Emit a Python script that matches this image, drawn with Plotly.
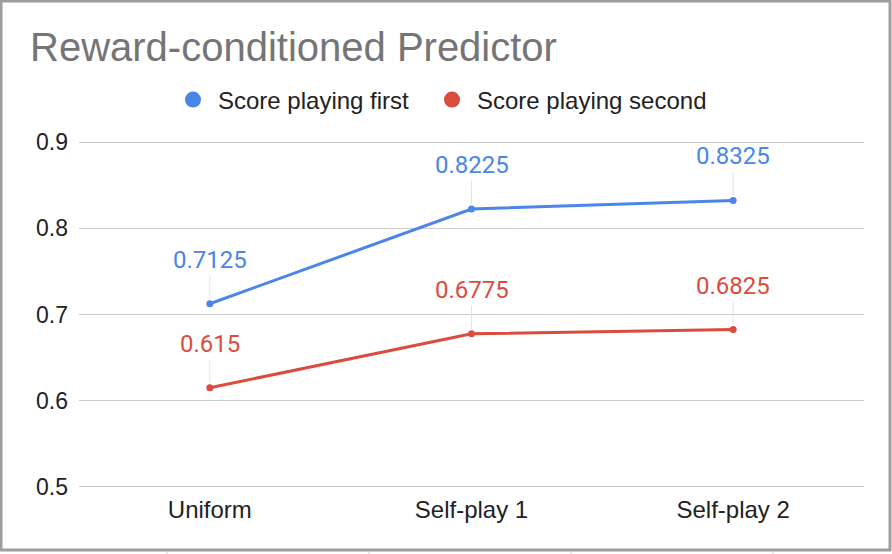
import plotly.graph_objects as go

categories = ['Uniform', 'Self-play 1', 'Self-play 2']
score_first = [0.7125, 0.8225, 0.8325]
score_second = [0.615, 0.6775, 0.6825]
series_names = ['Score playing first', 'Score playing second']
y_ticks = [0.5, 0.6, 0.7, 0.8, 0.9]

BLUE = '#4a86e8'
RED = '#db4c3f'

W, H = 892, 554
L, R, T, B = 79, 28, 141, 66
pw, ph = W - L - R, H - T - B

def px_x(p):
    return (p - L) / pw

def px_y(p):
    return (H - B - p) / ph

fig = go.Figure()

series = [(series_names[0], score_first, BLUE, 'legend'),
          (series_names[1], score_second, RED, 'legend2')]
for name, vals, col, leg in series:
    fig.add_trace(go.Scatter(
        x=categories, y=vals, mode='lines+markers', name=name,
        line=dict(color=col, width=3), marker=dict(color=col, size=7),
        showlegend=False, cliponaxis=False))
    # legend-only marker
    fig.add_trace(go.Scatter(
        x=[None], y=[None], mode='markers', name=name, legend=leg,
        marker=dict(color=col, size=20)))

annotations = []
for vals, col in [(score_first, BLUE), (score_second, RED)]:
    for c, v in zip(categories, vals):
        annotations.append(dict(
            x=c, y=v, xref='x', yref='y', text=str(v),
            showarrow=True, arrowhead=0, arrowwidth=1, arrowcolor='#e3e3e3',
            ax=0, ay=-44, standoff=5,
            font=dict(family='Roboto', size=24, color=col)))

shapes = [dict(type='rect', xref='paper', yref='paper',
               x0=px_x(1), x1=px_x(890), y0=px_y(550), y1=px_y(1),
               line=dict(color='#9e9e9e', width=3), layer='above')]
for gx in [167, 369, 571, 773]:
    shapes.append(dict(type='line', xref='paper', yref='paper',
                       x0=px_x(gx), x1=px_x(gx), y0=px_y(554), y1=px_y(551.5),
                       line=dict(color='#d0d0d0', width=1)))

legend_style = dict(orientation='h', xref='container', yref='container',
                    xanchor='left', y=1 - 100 / H, yanchor='middle',
                    font=dict(size=24, color='#222222'), itemsizing='trace',
                    itemwidth=40, bgcolor='rgba(0,0,0,0)')

fig.update_layout(
    width=W, height=H,
    margin=dict(l=L, r=R, t=T, b=B, autoexpand=False),
    paper_bgcolor='white', plot_bgcolor='white',
    font=dict(family='Liberation Sans, Arial', size=24, color='#222222'),
    title=dict(text='Reward-conditioned Predictor', xref='container', yref='container',
               x=30 / W, xanchor='left', y=1 - 47 / H, yanchor='middle',
               font=dict(family='Liberation Sans, Arial', size=40, color='#757575')),
    legend=dict(legend_style, x=(193 - 25) / W),
    legend2=dict(legend_style, x=(452 - 25) / W),
    xaxis=dict(type='category', range=[-0.5, 2.5], showgrid=False, showline=False,
               zeroline=False, ticks='', ticklabelstandoff=5,
               tickfont=dict(size=24, color='#222222')),
    yaxis=dict(range=[0.4985, 0.9015], tickvals=y_ticks, ticktext=[str(t) for t in y_ticks],
               showgrid=True, gridcolor='#cccccc', gridwidth=1, zeroline=False,
               showline=False, ticks='', ticklabelstandoff=10,
               tickfont=dict(size=23, color='#222222')),
    annotations=annotations,
    shapes=shapes,
)

fig.write_html('out.html', config={'displayModeBar': False},
               post_script="document.body.style.margin='0px';")
